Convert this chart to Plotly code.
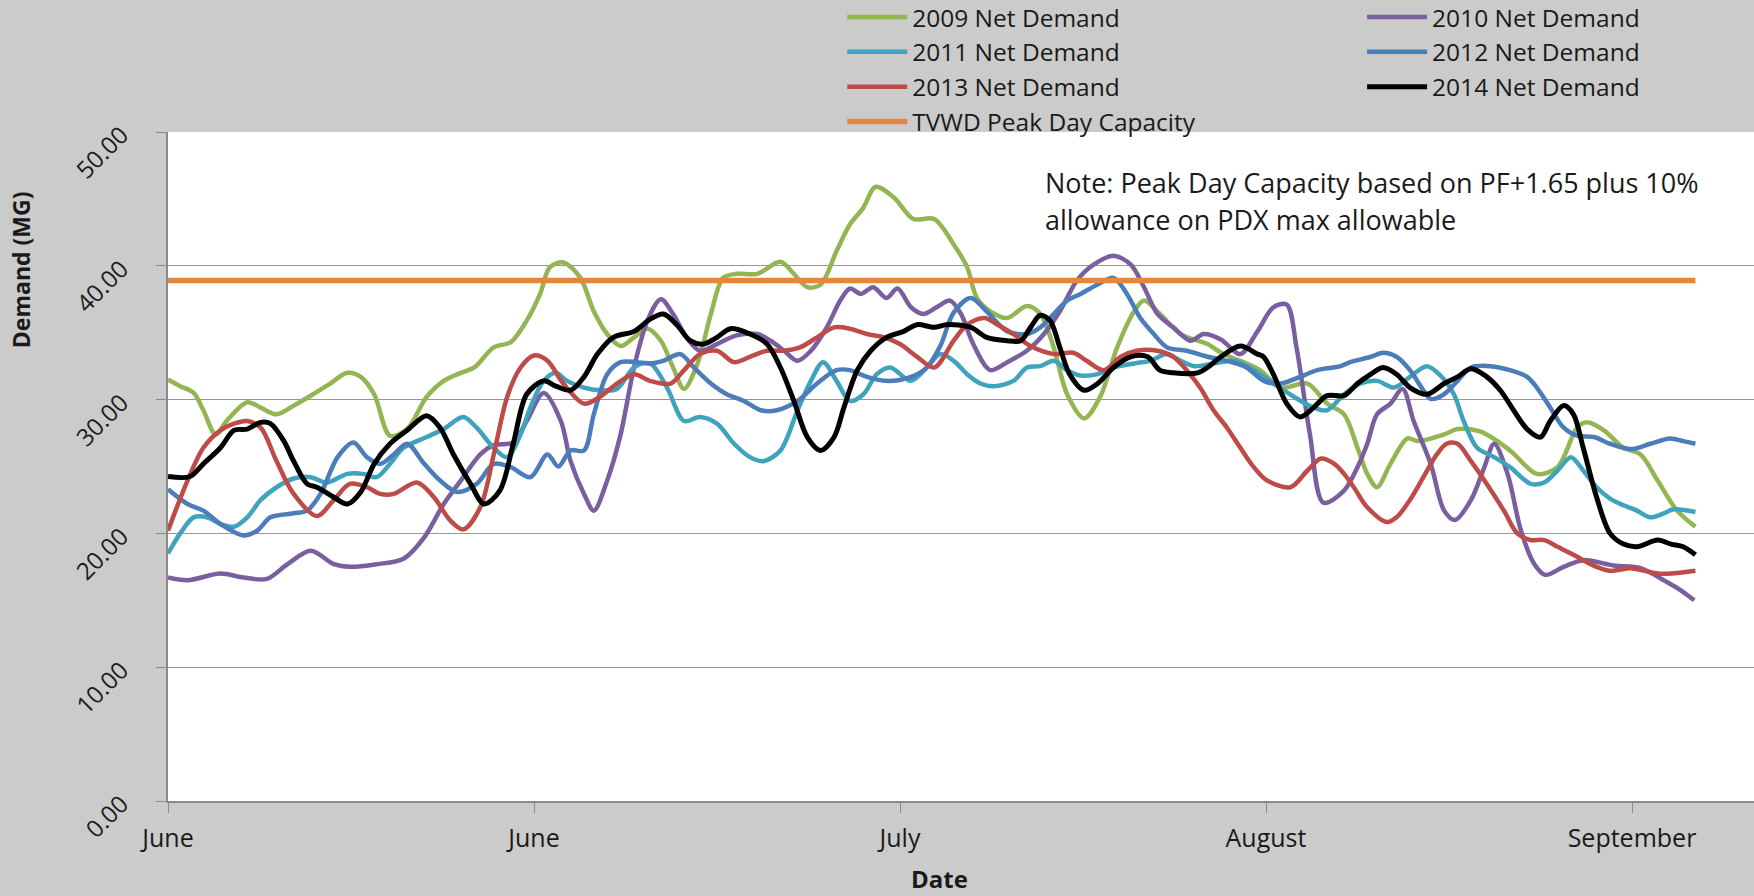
import plotly.graph_objects as go

# Daily net demand (MG), as (day since start of June period, value) pairs
NET_2009 = [(0, 31.5), (1.0, 31.0), (2.1, 30.5), (2.9, 29.2), (3.9, 27.4), (4.8, 28.4), (6.5, 29.8),
            (7.6, 29.4), (8.9, 28.9), (10.3, 29.55), (11.9, 30.4), (13.3, 31.2), (14.7, 32.0), (15.8, 31.7),
            (16.9, 30.4), (18.2, 27.3), (19.6, 27.8), (21.2, 30.2), (22.6, 31.4), (24.0, 32.0), (25.1, 32.4),
            (26.7, 33.9), (28.1, 34.3), (29.4, 35.9), (30.5, 37.9), (31.3, 39.9), (32.4, 40.25), (33.8, 39.1),
            (34.9, 36.6), (36.0, 34.9), (37.1, 34.0), (38.2, 34.65), (39.3, 35.3), (40.4, 34.4), (41.4, 32.4),
            (42.3, 30.8), (43.4, 32.7), (44.5, 36.4), (45.5, 39.1), (46.6, 39.4), (48.3, 39.4), (50.2, 40.3),
            (51.3, 39.4), (52.4, 38.4), (53.5, 38.6), (54.8, 41.1), (55.9, 43.1), (57.0, 44.35), (58.0, 45.9),
            (59.5, 45.1), (61.1, 43.5), (62.8, 43.5), (64.4, 41.6), (65.5, 39.9), (66.3, 37.6), (67.4, 36.6),
            (68.8, 36.1), (70.4, 37.0), (71.5, 36.4), (72.6, 33.9), (73.7, 30.4), (75.1, 28.6), (76.4, 30.2),
            (77.8, 33.9), (79.2, 36.6), (80.0, 37.4), (81.3, 36.4), (83.0, 34.9), (85.2, 34.15), (86.5, 33.4),
            (87.9, 32.9), (89.5, 32.2), (91.2, 30.9), (93.4, 31.2), (95.0, 29.7), (96.4, 28.9), (97.5, 26.4),
            (98.3, 24.45), (99.1, 23.45), (100.2, 25.2), (101.6, 27.1), (102.4, 26.9), (104.6, 27.4),
            (105.7, 27.8), (107.6, 27.6), (110.0, 26.2), (112.2, 24.45), (113.9, 24.95), (115.5, 27.9),
            (116.3, 28.3), (117.7, 27.7), (119.3, 26.4), (120.7, 25.9), (122.1, 23.95), (123.7, 21.7),
            (125.2, 20.5)]

NET_2010 = [(0, 16.7), (1.6, 16.5), (4.3, 17.0), (6.2, 16.7), (8.1, 16.6), (9.8, 17.7), (11.7, 18.7),
            (13.6, 17.7), (14.9, 17.5), (17.1, 17.7), (19.3, 18.1), (21.0, 19.7), (22.6, 22.2), (24.0, 23.95),
            (25.6, 25.9), (26.7, 26.6), (28.3, 26.8), (29.4, 28.4), (30.8, 30.5), (32.2, 28.4), (33.0, 25.4),
            (34.1, 22.95), (34.9, 21.7), (36.0, 23.95), (37.1, 27.4), (38.2, 32.4), (39.3, 35.9), (40.4, 37.5),
            (41.4, 36.4), (42.5, 34.65), (43.6, 33.65), (45.0, 34.15), (46.6, 34.8), (48.3, 34.9), (49.4, 34.4),
            (50.5, 33.65), (51.6, 32.9), (52.7, 33.65), (54.0, 35.4), (55.1, 37.4), (55.9, 38.3), (56.8, 37.9),
            (57.8, 38.4), (58.9, 37.6), (59.8, 38.3), (60.9, 36.9), (61.9, 36.4), (63.0, 36.9), (64.1, 37.4),
            (65.0, 36.4), (66.0, 34.15), (67.4, 32.2), (68.8, 32.8), (70.4, 33.65), (71.8, 34.9), (73.1, 36.6),
            (74.5, 38.9), (75.9, 40.1), (77.5, 40.75), (78.9, 40.1), (80.0, 38.4), (81.1, 36.4), (82.4, 35.4),
            (83.8, 34.4), (84.9, 34.9), (86.3, 34.5), (87.9, 33.4), (89.3, 35.1), (90.6, 36.9), (91.7, 37.1),
            (92.5, 33.9), (93.6, 27.4), (94.7, 22.3), (96.4, 23.2), (97.5, 24.95), (98.3, 26.7), (99.1, 28.9),
            (100.2, 29.7), (101.2, 30.8), (102.1, 28.4), (103.5, 25.2), (104.6, 21.7), (105.5, 21.0),
            (106.8, 22.5), (107.9, 24.95), (108.7, 26.7), (109.8, 24.45), (110.9, 20.2), (112.0, 17.7),
            (112.9, 16.9), (114.4, 17.5), (116.0, 18.0), (118.5, 17.6), (120.7, 17.4), (122.6, 16.5),
            (124.0, 15.75), (125.1, 15.0)]

NET_2011 = [(0, 18.5), (1.0, 20.0), (2.1, 21.2), (3.2, 21.2), (4.3, 20.7), (5.4, 20.5), (6.5, 21.2),
            (7.6, 22.5), (8.9, 23.45), (10.3, 24.1), (11.7, 24.2), (13.0, 23.8), (14.7, 24.45), (16.0, 24.45),
            (17.1, 24.2), (18.2, 25.2), (19.3, 26.4), (21.2, 27.2), (22.6, 27.8), (24.2, 28.7), (25.3, 27.9),
            (26.7, 26.4), (27.8, 25.7), (28.9, 27.4), (29.7, 29.4), (30.8, 31.4), (31.8, 32.0), (32.7, 31.4),
            (34.1, 30.9), (35.4, 30.7), (36.8, 30.8), (38.2, 32.4), (39.5, 32.7), (40.9, 30.9), (42.3, 28.4),
            (43.6, 28.7), (45.0, 28.2), (46.4, 26.7), (47.7, 25.7), (48.8, 25.4), (50.2, 26.2), (51.6, 29.2),
            (52.7, 31.4), (53.7, 32.8), (54.8, 31.4), (55.9, 29.9), (57.0, 30.4), (58.1, 31.9), (59.2, 32.4),
            (60.9, 31.4), (62.2, 32.4), (63.3, 33.4), (64.4, 32.9), (65.5, 31.9), (66.6, 31.2), (67.7, 31.0),
            (69.3, 31.4), (70.4, 32.4), (71.5, 32.5), (72.6, 32.9), (73.7, 32.2), (74.8, 31.8), (76.2, 31.9),
            (77.5, 32.4), (79.2, 32.7), (80.5, 32.9), (81.9, 33.4), (83.0, 32.9), (84.1, 32.5), (85.7, 32.7),
            (87.4, 32.9), (89.0, 32.2), (90.6, 31.2), (92.3, 30.2), (93.9, 29.4), (95.0, 29.2), (96.4, 30.4),
            (97.7, 31.2), (99.1, 31.4), (100.5, 30.9), (101.8, 31.7), (103.2, 32.5), (104.3, 31.8),
            (105.4, 30.4), (106.2, 28.4), (107.3, 26.4), (108.7, 25.7), (110.0, 24.95), (111.7, 23.7),
            (112.8, 23.8), (113.9, 24.7), (115.0, 25.7), (116.0, 24.7), (117.1, 23.45), (118.2, 22.6),
            (119.3, 22.1), (120.4, 21.7), (121.5, 21.2), (122.6, 21.5), (123.4, 21.8), (125.2, 21.6)]

NET_2012 = [(0, 23.3), (1.6, 22.2), (2.9, 21.7), (4.3, 20.7), (6.2, 19.85), (7.3, 20.2), (8.4, 21.2),
            (10.3, 21.5), (11.4, 21.7), (12.5, 22.95), (13.9, 25.7), (15.2, 26.8), (16.3, 25.7), (17.4, 25.2),
            (18.5, 25.9), (19.6, 26.7), (21.0, 25.2), (22.3, 23.95), (23.7, 23.1), (25.3, 23.7), (26.7, 25.2),
            (28.1, 24.95), (29.7, 24.2), (31.1, 25.9), (32.0, 25.0), (33.0, 26.2), (34.1, 26.2), (34.9, 28.9),
            (36.0, 31.9), (37.1, 32.8), (38.4, 32.8), (39.5, 32.7), (40.6, 32.9), (42.0, 33.4), (43.1, 32.4),
            (44.5, 31.2), (45.8, 30.4), (47.2, 29.9), (48.6, 29.2), (49.9, 29.2), (51.6, 29.9), (53.2, 31.2),
            (54.8, 32.2), (55.9, 32.2), (57.3, 31.7), (58.9, 31.4), (60.9, 31.7), (62.2, 32.4), (63.3, 34.0),
            (64.4, 36.5), (65.8, 37.6), (67.1, 36.6), (68.8, 35.1), (70.4, 34.9), (71.5, 35.4), (72.6, 36.4),
            (73.7, 37.4), (74.8, 37.9), (76.2, 38.6), (77.5, 39.1), (78.6, 37.9), (79.7, 36.1), (80.8, 34.9),
            (81.9, 33.9), (83.5, 33.65), (85.2, 33.2), (86.8, 32.9), (88.4, 32.4), (89.8, 31.4), (91.2, 31.2),
            (92.8, 31.7), (94.2, 32.2), (96.1, 32.5), (96.9, 32.8), (98.6, 33.2), (99.6, 33.5), (100.7, 33.2),
            (101.8, 32.2), (102.9, 30.7), (103.5, 30.05), (104.6, 30.4), (105.7, 31.4), (106.8, 32.4),
            (108.4, 32.5), (110.0, 32.2), (111.4, 31.7), (112.2, 30.9), (113.3, 29.4), (114.4, 27.9),
            (115.5, 27.3), (116.9, 27.2), (118.2, 26.7), (119.9, 26.3), (121.5, 26.7), (123.1, 27.1),
            (124.2, 26.9), (125.2, 26.7)]

NET_2013 = [(0, 20.2), (1.6, 23.95), (2.9, 26.4), (4.3, 27.7), (5.4, 28.2), (6.5, 28.4), (7.6, 27.9),
            (8.9, 25.4), (10.3, 22.95), (12.2, 21.3), (13.6, 22.5), (14.9, 23.7), (16.3, 23.45), (17.4, 22.95),
            (18.5, 22.95), (20.4, 23.8), (21.8, 22.7), (23.1, 21.0), (24.2, 20.3), (25.6, 21.95), (26.7, 25.9),
            (27.8, 30.2), (28.9, 32.4), (30.0, 33.3), (31.1, 32.9), (32.4, 31.2), (34.1, 29.7), (35.4, 30.2),
            (36.8, 31.2), (38.2, 31.9), (39.5, 31.4), (41.2, 31.2), (42.3, 32.2), (43.6, 33.4), (45.0, 33.65),
            (46.4, 32.8), (47.7, 33.2), (49.1, 33.65), (50.5, 33.65), (51.8, 33.9), (53.2, 34.65), (54.6, 35.4),
            (55.9, 35.3), (57.3, 34.9), (58.7, 34.65), (60.0, 34.15), (61.4, 33.2), (62.8, 32.4), (64.4, 34.4),
            (65.5, 35.6), (66.9, 36.1), (68.0, 35.6), (69.3, 34.9), (70.7, 34.0), (72.6, 33.4), (74.2, 33.5),
            (75.3, 32.9), (76.7, 32.2), (78.1, 33.2), (79.4, 33.65), (81.1, 33.65), (82.4, 33.2), (83.5, 32.2),
            (84.6, 30.9), (85.7, 29.2), (86.8, 27.9), (87.9, 26.4), (89.0, 24.95), (90.1, 23.95), (92.0, 23.45),
            (93.4, 24.7), (94.5, 25.6), (95.6, 25.2), (96.4, 24.45), (97.2, 23.45), (98.3, 21.95), (99.9, 20.85),
            (100.7, 21.2), (101.8, 22.5), (102.9, 24.2), (104.0, 25.9), (104.8, 26.7), (105.7, 26.7),
            (106.8, 25.4), (108.1, 23.7), (109.5, 21.7), (110.6, 20.0), (111.7, 19.5), (112.8, 19.5),
            (113.9, 19.0), (115.0, 18.5), (116.0, 18.0), (117.1, 17.5), (118.2, 17.2), (119.9, 17.4),
            (121.0, 17.2), (122.1, 17.0), (123.2, 17.0), (124.2, 17.1), (125.2, 17.2)]

NET_2014 = [(0, 24.25), (1.8, 24.25), (2.9, 25.2), (4.3, 26.4), (5.4, 27.7), (6.5, 27.8), (7.6, 28.3),
            (8.4, 28.2), (9.5, 26.9), (10.3, 25.4), (11.4, 23.7), (12.2, 23.45), (13.6, 22.7), (14.7, 22.2),
            (15.8, 23.1), (16.9, 25.2), (18.2, 26.7), (19.6, 27.7), (21.2, 28.8), (22.3, 27.9), (23.4, 25.9),
            (24.8, 23.7), (25.9, 22.2), (27.2, 23.2), (28.3, 26.7), (29.4, 30.4), (30.8, 31.4), (31.8, 31.0),
            (33.0, 30.7), (34.1, 31.7), (35.2, 33.4), (36.5, 34.65), (38.2, 35.1), (39.5, 36.0), (40.6, 36.4),
            (41.7, 35.6), (42.8, 34.4), (43.9, 34.15), (45.0, 34.65), (46.1, 35.3), (47.7, 34.9), (49.1, 34.15),
            (50.2, 32.4), (51.3, 29.9), (52.4, 27.2), (53.5, 26.2), (54.6, 27.2), (55.4, 29.4), (56.5, 32.2),
            (57.6, 33.65), (58.9, 34.65), (60.3, 35.1), (61.4, 35.6), (62.8, 35.4), (63.8, 35.6), (65.8, 35.4),
            (67.1, 34.65), (68.8, 34.4), (69.9, 34.4), (70.7, 35.4), (71.5, 36.3), (72.3, 35.9), (73.1, 33.9),
            (73.9, 31.9), (75.1, 30.7), (76.2, 31.2), (77.5, 32.4), (78.9, 33.2), (80.3, 33.2), (81.3, 32.2),
            (82.4, 32.0), (84.4, 32.0), (85.2, 32.4), (86.3, 33.2), (87.9, 34.0), (89.3, 33.4), (89.8, 33.2),
            (90.6, 31.9), (91.7, 29.7), (92.8, 28.7), (93.9, 29.4), (95.0, 30.3), (96.4, 30.3), (97.5, 31.2),
            (98.6, 31.9), (99.6, 32.4), (100.7, 31.9), (101.8, 30.9), (103.2, 30.4), (104.6, 31.2),
            (105.7, 31.7), (106.8, 32.3), (108.1, 31.7), (109.2, 30.7), (110.3, 29.2), (111.4, 27.8),
            (112.5, 27.2), (113.3, 28.4), (114.4, 29.55), (115.2, 28.9), (116.0, 26.4), (117.1, 22.7),
            (118.2, 20.0), (119.3, 19.2), (120.4, 19.0), (122.1, 19.5), (123.2, 19.2), (124.2, 19.0),
            (125.2, 18.4)]

# TVWD peak day capacity (MG), flat over the period
CAPACITY_DAYS = [0, 125.2]
CAPACITY_MG = [38.9, 38.9]

# Axis ticks
X_TICK_DAYS = [0, 30, 60, 90, 120]
X_TICK_LABELS = ["June", "June", "July", "August", "September"]
Y_TICKS = [0, 10, 20, 30, 40, 50]

FONT = "Open Sans"
TEXT = "#1a1a1a"

series = [
    ("2009 Net Demand", NET_2009, "#93B552", 4.5, "legend"),
    ("2010 Net Demand", NET_2010, "#7A5FA0", 4.5, "legend2"),
    ("2011 Net Demand", NET_2011, "#3FA3BE", 4.5, "legend"),
    ("2012 Net Demand", NET_2012, "#4A7DBA", 4.5, "legend2"),
    ("2013 Net Demand", NET_2013, "#BE4B48", 4.5, "legend"),
    ("2014 Net Demand", NET_2014, "#000000", 5.0, "legend2"),
]

fig = go.Figure()
for name, pts, color, width, leg in series:
    fig.add_trace(go.Scatter(
        x=[p[0] for p in pts], y=[p[1] for p in pts], name=name, mode="lines",
        line=dict(color=color, width=width, shape="spline", smoothing=0.9),
        legend=leg,
    ))

fig.add_trace(go.Scatter(
    x=CAPACITY_DAYS, y=CAPACITY_MG, name="TVWD Peak Day Capacity", mode="lines",
    line=dict(color="#E3873D", width=5.5), legend="legend",
))

legend_common = dict(
    orientation="v", xanchor="left", yanchor="top", y=1.2055,
    bgcolor="rgba(0,0,0,0)", borderwidth=0, itemwidth=60,
    font=dict(family=FONT, size=24.5, color=TEXT), traceorder="normal",
)

fig.update_layout(
    width=1754, height=896,
    margin=dict(l=168, r=0, t=132, b=95, autoexpand=False),
    paper_bgcolor="#CBCBCB", plot_bgcolor="#FFFFFF",
    font=dict(family=FONT, size=24, color=TEXT),
    showlegend=True,
    legend=dict(x=0.4251, **legend_common),
    legend2=dict(x=0.7529, **legend_common),
    xaxis=dict(
        range=[0, 130], tickvals=X_TICK_DAYS, ticktext=X_TICK_LABELS,
        showgrid=False, zeroline=False, showline=True, linecolor="#8A8A8A", linewidth=1.5,
        ticks="outside", ticklen=10, tickcolor="#8A8A8A", ticklabelstandoff=4,
        tickfont=dict(family=FONT, size=25, color=TEXT),
    ),
    yaxis=dict(
        range=[0, 50], tickvals=Y_TICKS, tickformat=".2f", tickangle=-45,
        showgrid=True, gridcolor="#969696", gridwidth=1.3, zeroline=False,
        showline=True, linecolor="#8A8A8A", linewidth=1.5,
        ticks="outside", ticklen=10, tickcolor="#8A8A8A", ticklabelstandoff=30,
        tickfont=dict(family=FONT, size=24, color=TEXT),
    ),
    annotations=[
        dict(text="<b>Demand (MG)</b>", xref="paper", yref="paper", x=-0.093, y=0.7942,
             xanchor="center", yanchor="middle", textangle=-90, showarrow=False,
             font=dict(family=FONT, size=23, color=TEXT)),
        dict(text="<b>Date</b>", xref="paper", yref="paper", x=0.4866, y=-0.1156,
             xanchor="center", yanchor="middle", showarrow=False,
             font=dict(family=FONT, size=24, color=TEXT)),
        dict(text="Note: Peak Day Capacity based on PF+1.65 plus 10%", xref="paper", yref="paper",
             x=0.5517, y=0.924, xanchor="left", yanchor="middle", showarrow=False,
             font=dict(family=FONT, size=27, color=TEXT)),
        dict(text="allowance on PDX max allowable", xref="paper", yref="paper",
             x=0.5517, y=0.8689, xanchor="left", yanchor="middle", showarrow=False,
             font=dict(family=FONT, size=27, color=TEXT)),
    ],
)

fig.write_html("out.html")
